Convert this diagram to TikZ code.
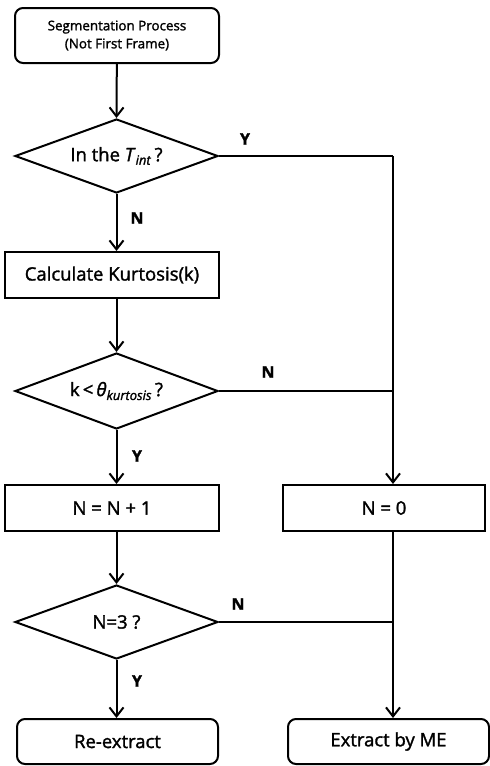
\documentclass[tikz,border=0pt]{standalone}
\usepackage{fontspec}
\setmainfont{Open Sans}[FakeBold=1.6]
\usetikzlibrary{shapes.geometric,arrows.meta}
\tikzset{
  base/.style={draw, line width=2pt, align=center, inner sep=0pt, font=\fontsize{18.5}{22}\selectfont},
  procbox/.style={base, rectangle, minimum height=46pt},
  termbox/.style={base, rectangle, rounded corners=8pt, minimum height=45pt, minimum width=201pt},
  decision/.style={base, diamond, minimum width=203pt, minimum height=74pt, shape aspect=2.7},
  flow/.style={line width=2pt, -{Straight Barb[length=9pt,width=14pt,line width=2pt]}},
  line/.style={line width=2pt},
  lbl/.style={font=\bfseries\fontsize{16}{19}\selectfont, inner sep=0pt}
}
\begin{document}
\begin{tikzpicture}[x=1pt,y=-1pt]
\useasboundingbox (0,0) rectangle (490,766);
\node[termbox, minimum width=204pt, minimum height=55pt, font=\fontsize{13.4}{18}\selectfont] (start) at (117,35.5) {Segmentation Process\\(Not First Frame)};
\node[decision] (d1) at (116.5,156) {In the \textit{T}\textsubscript{\textit{int}}\,?};
\node[procbox, minimum width=214pt] (calc) at (112,275) {Calculate Kurtosis(k)};
\node[decision, minimum height=76pt] (d2) at (116.5,391) {k\,<\,\textit{θ}\textsubscript{\textit{kurtosis}}\,?};
\node[procbox, minimum width=214pt] (inc) at (112,508) {N = N + 1};
\node[procbox, minimum width=202pt] (zero) at (384,508) {N = 0};
\node[decision] (d3) at (116.5,622) {N=3 ?};
\node[termbox] (re) at (117.5,741.5) {Re-extract};
\node[termbox] (me) at (388.5,741.5) {Extract by ME};

\coordinate (j1) at (393,156);
\coordinate (j2) at (393,391);
\coordinate (j3) at (393,622);

\draw[flow] (start) -- (d1.north);
\draw[flow] (d1.south) -- (d1.south |- calc.north);
\draw[flow] (d1.south |- calc.south) -- (d2.north);
\draw[flow] (d2.south) -- (d2.south |- inc.north);
\draw[flow] (d2.south |- inc.south) -- (d3.north);
\draw[flow] (d3.south) -- (d3.south |- re.north);
\draw[line] (d1.east) -- (j1);
\draw[flow] (j1) -- (j1 |- zero.north);
\draw[line] (d2.east) -- (j2);
\draw[line] (d3.east) -- (j3);
\draw[flow] (j1 |- zero.south) -- (j1 |- me.north);

\node[lbl] (y1) at (245,139) {Y};
\node[lbl] (n1) at (137,218) {N};
\node[lbl] (n2) at (268,372) {N};
\node[lbl] (y2) at (137,456) {Y};
\node[lbl] (n3) at (238,604) {N};
\node[lbl] (y3) at (137,681) {Y};
\end{tikzpicture}
\end{document}
